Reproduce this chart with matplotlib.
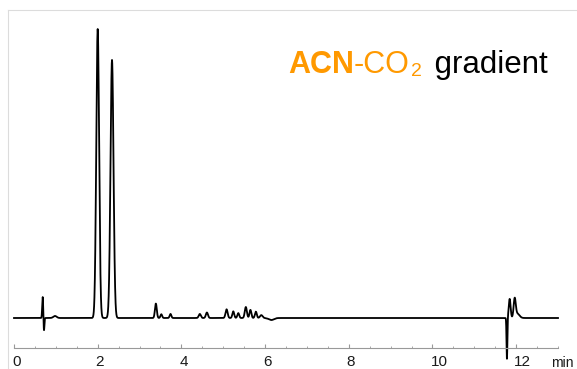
import numpy as np
import matplotlib.pyplot as plt
from matplotlib.transforms import ScaledTranslation

plt.rcParams['font.family'] = ['Liberation Sans', 'DejaVu Sans']

# peak table: retention time (min), height (rel.), width sigma (min)
rt     = [0.686, 0.716, 0.98, 2.00, 2.342, 3.39, 3.52, 3.74, 4.44, 4.61,
          5.08, 5.24, 5.36, 5.54, 5.65, 5.78, 5.91, 6.15,
          11.78, 11.845, 11.965, 12.03]
height = [7.3, -4.5, 0.7, 100.0, 89.3, 5.0, 1.3, 1.4, 1.4, 1.9,
          3.0, 2.3, 1.7, 3.8, 2.8, 2.2, 1.0, -0.7,
          -14.2, 6.6, 6.4, 1.5]
sigma  = [0.012, 0.010, 0.04, 0.034, 0.036, 0.022, 0.02, 0.02, 0.025, 0.025,
          0.025, 0.022, 0.022, 0.025, 0.022, 0.022, 0.03, 0.06,
          0.010, 0.022, 0.025, 0.05]

t_end = 13.0
xticks = [0, 2, 4, 6, 8, 10, 12]

t = np.arange(0, t_end + 0.001, 0.002)
signal = np.zeros_like(t)
for r, h, s in zip(rt, height, sigma):
    signal += h * np.exp(-0.5 * ((t - r) / s) ** 2)

W, H = 577, 369
fig = plt.figure(figsize=(W / 100, H / 100), dpi=100)

# light panel frame (left + top edges)
frame = fig.add_axes([8 / W, 0, 1 - 8 / W, 359 / H])
frame.set_facecolor('none')
for side in ['right', 'bottom']:
    frame.spines[side].set_visible(False)
for side in ['left', 'top']:
    frame.spines[side].set_color('#dcdcdc')
frame.set_xticks([])
frame.set_yticks([])

ax = fig.add_axes([14 / W, 21 / H, 544 / W, 338 / H])
ax.set_facecolor('none')
ax.plot(t, signal, color='black', lw=1.3, clip_on=False)
ax.set_xlim(0, t_end)
ax.set_ylim(-10.38, 106.58)

for side in ['left', 'right', 'top']:
    ax.spines[side].set_visible(False)
ax.spines['bottom'].set_color('#999999')
ax.set_yticks([])
ax.set_xticks(xticks)
ax.set_xticks(np.arange(0, t_end + 0.01, 0.5), minor=True)
ax.tick_params(axis='x', which='major', direction='in', length=3, color='#999999',
               labelsize=11, labelcolor='#1a1a1a', pad=5)
ax.tick_params(axis='x', which='minor', direction='in', length=1.6, color='#999999')
shift = ScaledTranslation(-2 / 100, 0, fig.dpi_scale_trans)
for lbl in ax.get_xticklabels():
    lbl.set_ha('left')
    lbl.set_transform(lbl.get_transform() + shift)

fig.text(551 / W, 2 / H, 'min', fontsize=10, color='#1a1a1a', va='baseline')

# title: coloured pieces chained one after another
orange = '#FF9900'
t1 = fig.text(288 / W, (H - 73) / H, 'ACN', fontsize=22, weight='bold',
              color=orange, va='baseline')
t2 = ax.annotate('-CO', xy=(1, 0), xycoords=t1, fontsize=22, color=orange,
                 va='bottom', ha='left')
t3 = ax.annotate('2', xy=(1, 0), xycoords=t2, xytext=(1, 0), textcoords='offset points',
                 fontsize=14, color=orange, va='bottom', ha='left')
ax.annotate(' gradient', xy=(1, 0), xycoords=(t3, t2), xytext=(3, 0),
            textcoords='offset points', fontsize=22.5, color='black',
            va='bottom', ha='left')

fig.savefig('out.png', dpi=100)
